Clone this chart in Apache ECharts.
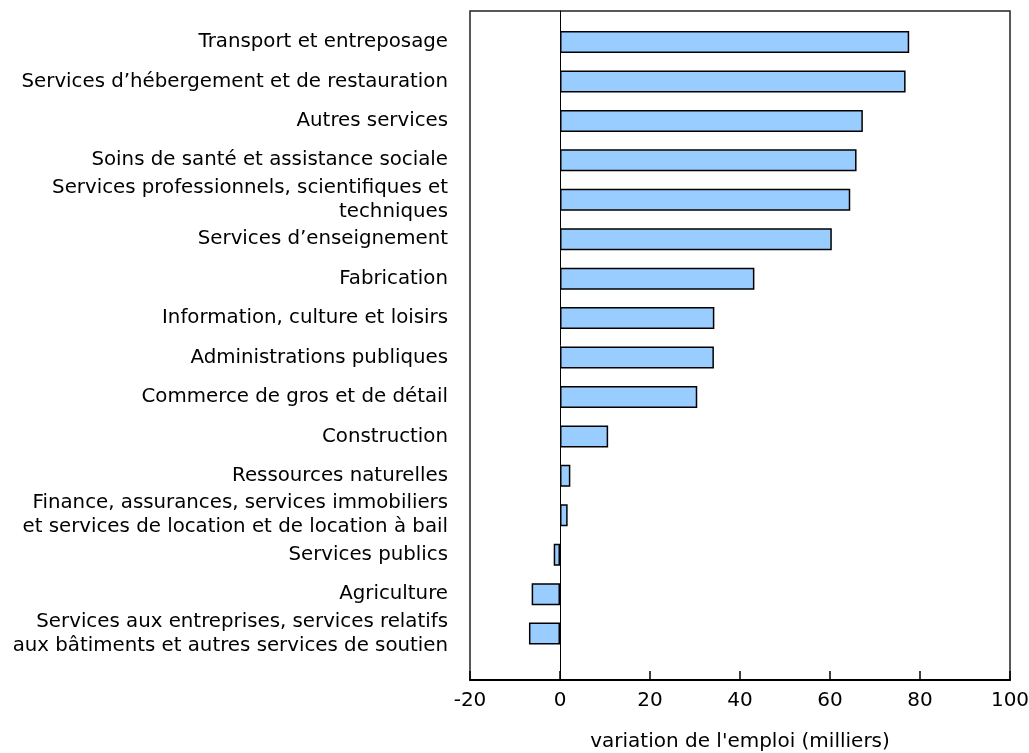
<!DOCTYPE html>
<html>
<head>
<meta charset="utf-8">
<script src="https://cdn.jsdelivr.net/npm/echarts@6/dist/echarts.min.js"></script>
<style>
html,body{margin:0;padding:0;background:#fff;}
#chart{width:1029px;height:753px;}
</style>
</head>
<body>
<div id="chart"></div>
<script>
const categories = [
  "Transport et entreposage",
  "Services d\u2019hébergement et de restauration",
  "Autres services",
  "Soins de santé et assistance sociale",
  "Services professionnels, scientifiques et\ntechniques",
  "Services d\u2019enseignement",
  "Fabrication",
  "Information, culture et loisirs",
  "Administrations publiques",
  "Commerce de gros et de détail",
  "Construction",
  "Ressources naturelles",
  "Finance, assurances, services immobiliers\net services de location et de location à bail",
  "Services publics",
  "Agriculture",
  "Services aux entreprises, services relatifs\naux bâtiments et autres services de soutien"
];
const values = [77.6, 76.8, 67.3, 65.9, 64.5, 60.4, 43.2, 34.3, 34.2, 30.5, 10.7, 2.3, 1.7, -1.4, -6.3, -6.9];
const xTicks = { min: -20, max: 100, interval: 20 };
const xName = "variation de l'emploi (milliers)";

const chart = echarts.init(document.getElementById('chart'), null, { renderer: 'canvas' });
const font = "DejaVu Sans";
chart.setOption({
  animation: false,
  textStyle: { fontFamily: font },
  title: {
    text: xName,
    left: 740, top: 732, textAlign: 'center', padding: 0,
    textStyle: { fontFamily: font, fontSize: 20, fontWeight: 'normal', color: '#000' }
  },
  grid: [
    { left: 470, right: 19, top: 11, bottom: 73, show: true, borderColor: '#222', borderWidth: 1.5, containLabel: false, outerBoundsMode: 'none' },
    { left: 470, right: 19, top: 22.3, height: 631, show: false, containLabel: false, outerBoundsMode: 'none' }
  ],
  xAxis: [
    {
      gridIndex: 0, type: 'value', min: xTicks.min, max: xTicks.max, interval: xTicks.interval,
      axisLine: { show: true, onZero: false, lineStyle: { color: '#000', width: 2 } },
      axisTick: { show: true, inside: true, length: 9, lineStyle: { color: '#000', width: 1.5 } },
      axisLabel: { color: '#000', fontSize: 20, fontFamily: font, margin: 11 },
      splitLine: { show: false }
    },
    {
      gridIndex: 1, type: 'value', min: xTicks.min, max: xTicks.max, show: false
    }
  ],
  yAxis: [
    {
      gridIndex: 0, type: 'value', min: 0, max: 1,
      axisLine: { show: true, onZero: true, lineStyle: { color: '#000', width: 1 } },
      axisTick: { show: false }, axisLabel: { show: false }, splitLine: { show: false }
    },
    {
      gridIndex: 1, type: 'category', data: categories, inverse: true,
      axisLine: { show: false }, axisTick: { show: false }, splitLine: { show: false },
      axisLabel: { color: '#000', fontSize: 19.8, fontFamily: font, margin: 22, lineHeight: 24, align: 'right' }
    }
  ],
  series: [
    {
      type: 'bar', xAxisIndex: 1, yAxisIndex: 1, data: values, barWidth: 22,
      itemStyle: { color: '#99ccff', borderColor: '#000', borderWidth: 1.5 }
    }
  ]
});
</script>
</body>
</html>
